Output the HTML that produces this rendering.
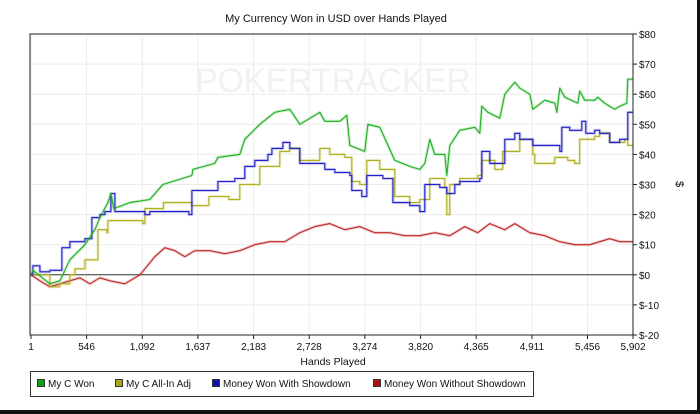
<!DOCTYPE html>
<html><head><meta charset="utf-8"><style>
body{margin:0;background:#fff;}
svg{display:block;font-family:"Liberation Sans",sans-serif;}
</style></head><body>
<svg id="chart" width="700" height="414" viewBox="0 0 700 414">
<rect x="0" y="0" width="700" height="414" fill="#fff"/>
<rect x="697" y="0" width="3" height="414" fill="#111"/>
<rect x="0" y="410" width="700" height="4" fill="#111"/>
<text x="336" y="22" font-size="11" text-anchor="middle" fill="#111">My Currency Won in USD over Hands Played</text>
<g id="grid"></g>
<text x="333" y="92" font-size="34" text-anchor="middle" fill="#f1f1f1" textLength="275" lengthAdjust="spacingAndGlyphs">POKERTRACKER</text>
<g id="series"></g>
<rect x="30" y="34" width="603" height="301" fill="none" stroke="#222" stroke-width="1"/>
<g id="axes"></g>
<text x="333" y="365" font-size="10.5" text-anchor="middle" fill="#111">Hands Played</text>
<text x="676" y="184" font-size="11" text-anchor="middle" fill="#111" transform="rotate(90 676 184)">$</text>
<g>
<rect x="30.5" y="371.5" width="503" height="25" fill="#fff" stroke="#333"/>
<g><rect x="37.5" y="379.5" width="7" height="7" fill="#10a010" stroke="#333"/><text x="48" y="387" font-size="10" fill="#111">My C Won</text></g>
<g><rect x="115.5" y="379.5" width="7" height="7" fill="#a8a818" stroke="#333"/><text x="126" y="387" font-size="10" fill="#111">My C All-In Adj</text></g>
<g><rect x="212.5" y="379.5" width="7" height="7" fill="#1010b0" stroke="#333"/><text x="223" y="387" font-size="10" fill="#111">Money Won With Showdown</text></g>
<g><rect x="373.5" y="379.5" width="7" height="7" fill="#b01010" stroke="#333"/><text x="384" y="387" font-size="10" fill="#111">Money Won Without Showdown</text></g>
</g>
</svg>
<script>
const xTicks = [1,546,1092,1637,2183,2728,3274,3820,4365,4911,5456,5902];
const xTickLabels = ["1","546","1,092","1,637","2,183","2,728","3,274","3,820","4,365","4,911","5,456","5,902"];
const yTicks = [-20,-10,0,10,20,30,40,50,60,70,80];
const yTickLabels = ["$-20","$-10","$0","$10","$20","$30","$40","$50","$60","$70","$80"];

const greenHands = [0,20,186,284,382,529,627,676,755,784,813,970,1166,1294,1578,1588,1803,1833,2048,2097,2244,2391,2538,2636,2832,2881,3028,3097,3126,3273,3303,3420,3567,3714,3812,3861,3910,3959,4057,4077,4106,4204,4351,4400,4420,4479,4596,4645,4743,4792,4890,4920,5037,5135,5155,5184,5233,5361,5380,5429,5527,5557,5625,5723,5772,5841,5851,5901];
const greenValues = [0,1.5,-3,-2,5,10,15,19,24,27,22,24,25,30,33,35,37,39,40,45,50,54,55,50,54,51,51,53,43,41,50,49,38,36,35,37,45,40,40,33,43,48,49,47,56,54,52,60,64,62,60,55,58,57,54,62,59,57,61,58,58,59,57,55,56,57,65,65];

const yellowHands = [0,186,284,382,431,529,627,657,745,755,1098,1117,1300,1578,1745,1940,2048,2244,2440,2538,2636,2832,2930,3077,3146,3224,3293,3420,3567,3714,3812,3910,4057,4077,4106,4204,4381,4420,4547,4625,4792,4920,4939,5135,5263,5331,5380,5527,5576,5674,5821,5851,5901];
const yellowValues = [0,-4,-3,0,2,5,5,15,14,18,17,22,24,23,26,25,30,36,41,42,38,42,40,39,31,30,38,35,26,24,25,32,29,20,30,32,33,38,35,41,45,40,37,39,38,37,45,46,47,44,45,43,43];

const blueHands = [0,20,88,186,284,304,382,529,598,676,725,784,823,970,1117,1166,1549,1578,1803,1833,1999,2097,2195,2323,2362,2470,2538,2636,2832,2881,2979,3126,3146,3244,3293,3450,3548,3714,3812,3861,4008,4077,4155,4204,4400,4420,4498,4596,4645,4743,4792,4920,5135,5184,5204,5282,5380,5400,5439,5527,5576,5674,5772,5841,5851,5901];
const blueValues = [0,3,1,1.5,1.5,9,11,12,19,20,21,27,21,21,20,21,20,28,28,31,32,36,38,40,42,44,42,37,37,35,34,33,28,26,33,32,24,23,21,30,29,27,30,31,32,41,37,37,45,47,45,43,43,41,49,48,48,51,47,48,47,44,45,45,54,54];

const redHands = [0,88,186,284,382,480,578,676,774,921,1068,1117,1215,1313,1411,1509,1607,1754,1901,2048,2195,2342,2489,2636,2783,2930,3077,3224,3371,3518,3665,3812,3959,4106,4253,4381,4498,4645,4743,4890,5037,5184,5331,5478,5576,5674,5772,5901];
const redValues = [0,-2,-4,-3,-2,-1,-3,-1,-2,-3,0,2,6,9,8,6,8,8,7,8,10,11,11,14,16,17,15,16,14,14,13,13,14,13,16,14,17,15,17,14,13,11,10,10,11,12,11,11];

const NS="http://www.w3.org/2000/svg";
const X0=31,X1=633,Y0=335,Y1=34;
function xScale(h){return X0+(h-1)/(5902-1)*(X1-X0);}
function yScale(v){return Y0-(v+20)/100*(Y0-Y1);}
function mk(tag,attrs,parent){const e=document.createElementNS(NS,tag);for(const k in attrs)e.setAttribute(k,attrs[k]);parent.appendChild(e);return e;}
const grid=document.getElementById('grid'),axes=document.getElementById('axes'),series=document.getElementById('series');
xTicks.forEach((t,i)=>{
  const x=xScale(t);
  const g=mk('line',{x1:x,x2:x,y1:Y1,y2:Y0,stroke:'#ececec'},grid);
  
  
  const tk=mk('line',{x1:x,x2:x,y1:Y0,y2:Y0+4,stroke:'#222'},axes);
  
  
  const lb=mk('text',{x:x,y:Y0+15,'font-size':10,'text-anchor':'middle',fill:'#111'},axes);
  lb.textContent=xTickLabels[i];
  
  
});
yTicks.forEach((t,i)=>{
  const y=yScale(t);
  const g=mk('line',{x1:X0-1,x2:X1,y1:y,y2:y,stroke:t===0?'#333':'#ececec'},grid);
  
  
  const tk=mk('line',{x1:X1,x2:X1+4,y1:y,y2:y,stroke:'#222'},axes);
  
  
  const lb=mk('text',{x:X1+6,y:y+4,'font-size':10,fill:'#111'},axes);
  lb.textContent=yTickLabels[i];
  
  
});
function draw(hands,vals,color,name,step){
  const arr=[];
  hands.forEach((h,i)=>{
    const x=xScale(h).toFixed(1),y=yScale(vals[i]).toFixed(1);
    if(step&&i>0){arr.push(x+','+yScale(vals[i-1]).toFixed(1));}
    arr.push(x+','+y);
  });
  const pts=arr.join(' ');
  const halo=mk('polyline',{points:pts,fill:'none',stroke:color,'stroke-opacity':0.22,'stroke-width':3,'stroke-linejoin':'round'},series);
  
  
  const p=mk('polyline',{points:pts,fill:'none',stroke:color,'stroke-width':1.1,'stroke-linejoin':'round'},series);
  
  
}
draw(redHands,redValues,'#c02828','line-without-showdown',false);
draw(yellowHands,yellowValues,'#b0b020','line-all-in-adj',true);
draw(blueHands,blueValues,'#2222c8','line-with-showdown',true);
draw(greenHands,greenValues,'#20b020','line-my-c-won',false);
</script>
</body></html>
